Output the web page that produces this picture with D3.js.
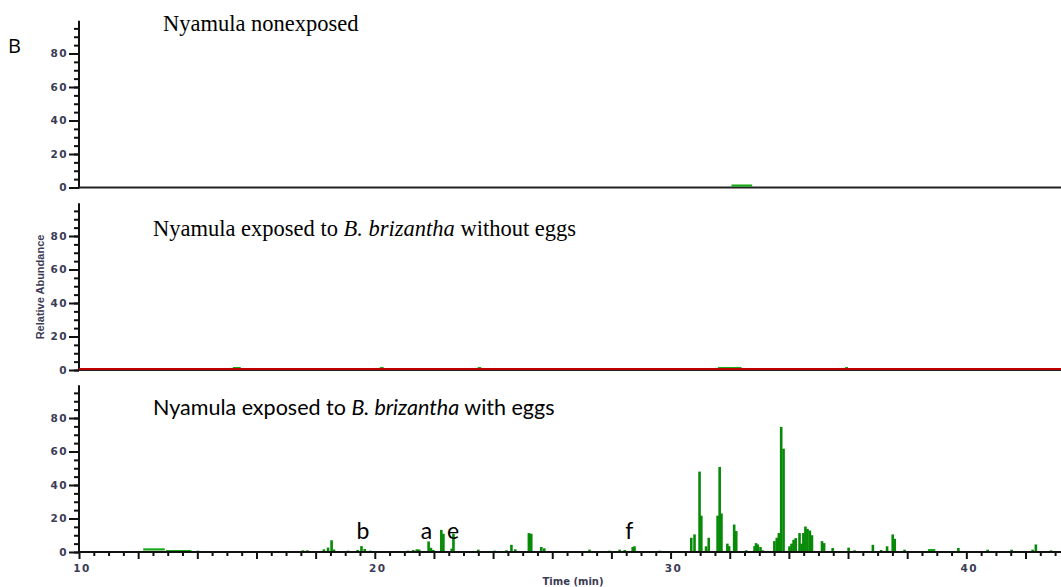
<!DOCTYPE html>
<html>
<head>
<meta charset="utf-8">
<script src="https://cdn.jsdelivr.net/npm/d3@7"></script>
<style>
  body { margin: 0; background: #fff; overflow: hidden; }
  svg { display: block; }
  .tick text { font-family: "DejaVu Sans", Verdana, sans-serif; font-weight: bold; font-size: 10.5px; letter-spacing: 1.5px; fill: #3b3b55; }
  .tick line { stroke: #111; stroke-width: 2px; }
</style>
</head>
<body>
<div id="chart"></div>
<script>
// ---- data ----
// retention time (min) and relative abundance for the peaks of each trace
var panelTitles = ["Nyamula nonexposed", "Nyamula exposed to B. brizantha without eggs", "Nyamula exposed to B. brizantha with eggs"];

// flat segments [start, end, level]
var nonexposedFlat = [[32.06, 32.76, 1.2]];
var withoutEggsFlat = [[15.2, 15.47, 1.2], [20.17, 20.3, 1.2], [23.48, 23.6, 1.2], [31.6, 32.4, 1.2], [35.9, 36.0, 1.2]];
var withEggsFlat = [[12.17, 12.9, 1.6], [12.94, 13.8, 0.6], [38.7, 38.95, 1.2]];

var peakTimes = [14.02, 17.57, 17.72, 18.28, 18.42, 18.54, 18.62, 19.1, 19.42, 19.55, 19.66, 19.85,
  21.12, 21.3, 21.42, 21.5, 21.82, 21.9, 21.98, 22.25, 22.32, 22.6, 22.66, 23.5, 24.05, 24.45, 24.62, 24.75,
  25.21, 25.29, 25.63, 25.73, 27.26, 27.94, 28.28, 28.45, 28.72, 28.78, 29.0, 29.63, 29.96,
  30.7, 30.81, 30.98, 31.04, 31.2, 31.29, 31.59, 31.66, 31.72, 31.92, 31.98, 32.15, 32.22, 32.56,
  32.84, 32.89, 32.95, 33.04, 33.12, 33.51, 33.59, 33.66, 33.74, 33.82, 34.02, 34.09, 34.16, 34.23,
  34.36, 34.43, 34.49, 34.56, 34.63, 34.71, 34.78, 35.12, 35.19, 35.48, 36.02, 36.22, 36.84, 37.12,
  37.32, 37.51, 37.58, 37.91, 39.73, 40.72, 41.53, 42.24, 42.35, 42.86];
var peakValues = [0.8, 1.0, 1.0, 1.6, 2.6, 7.0, 1.5, 0.8, 1.2, 3.5, 1.8, 0.8,
  0.8, 1.2, 1.6, 1.5, 6.3, 2.5, 1.2, 13.2, 10.9, 2.0, 10.9, 1.4, 0.8, 1.0, 4.3, 1.6,
  11.3, 10.9, 3.0, 2.2, 1.4, 0.8, 1.4, 1.2, 3.0, 3.4, 0.6, 0.8, 0.5,
  8.5, 10.5, 48, 21.7, 3.4, 8.5, 21.7, 50.8, 23, 5, 3.5, 16.4, 12.5, 1.0,
  3.5, 5.3, 4.5, 3.0, 1.0, 6.5, 8.5, 11.3, 74.7, 61.7, 3.4, 5, 7.3, 8.3,
  11.3, 5, 11.3, 15.2, 13.8, 12.8, 10, 6.5, 5.3, 2.4, 2.6, 1.0, 4.3, 1.2,
  3.4, 10.5, 7.9, 1.4, 2.4, 1.4, 1.4, 1.4, 4.5, 1.0];

var peakLabels = ["b", "a", "e", "f"];
var peakLabelTimes = [19.6, 21.75, 22.65, 28.6];

var yLabelTicks = [0, 20, 40, 60, 80];
var xLabelTicks = [10, 20, 30, 40];

// ---- layout ----
var W = 1061, H = 587;
var svg = d3.select("#chart").append("svg").attr("width", W).attr("height", H);

var x = d3.scaleLinear().domain([10, 43.2]).range([79, 1061]);
var baseY = [187.5, 370, 552];
var green = "#078a07", flatGreen = "#18a818";
var labelFont = "'DejaVu Sans', Verdana, sans-serif";

svg.append("text").attr("x", 8).attr("y", 53)
  .style("font-family", "'Open Sans', Arial, sans-serif").style("font-size", "20px").text("B");

function drawPanel(i, flats) {
  var y = d3.scaleLinear().domain([0, 100]).range([baseY[i], baseY[i] - 167.5]);
  var g = svg.append("g");

  // y axis: minor every 5, labelled every 20
  g.append("g").attr("transform", "translate(79,0)")
    .call(d3.axisLeft(y).tickValues(d3.range(0, 100, 5)).tickSize(5).tickFormat(""))
    .call(function(s) { s.select(".domain").remove(); });
  g.append("g").attr("transform", "translate(79,0)")
    .call(d3.axisLeft(y).tickValues(yLabelTicks).tickSize(10).tickPadding(1))
    .call(function(s) { s.select(".domain").remove(); });
  g.append("line").attr("x1", 79).attr("x2", 79).attr("y1", y(0) + 1).attr("y2", y(99.5))
    .attr("stroke", "#111").attr("stroke-width", 2);

  // baseline
  g.append("line").attr("x1", 79).attr("x2", W).attr("y1", y(0)).attr("y2", y(0))
    .attr("stroke", "#222").attr("stroke-width", 2);

  g.selectAll(".flat").data(flats).enter().append("rect")
    .attr("x", function(d) { return x(d[0]); })
    .attr("width", function(d) { return x(d[1]) - x(d[0]); })
    .attr("y", function(d) { return y(d[2]) - 1; })
    .attr("height", 2.2)
    .attr("fill", flatGreen);
  return {g: g, y: y};
}

// panel 1
drawPanel(0, nonexposedFlat);
svg.append("text").attr("x", 163).attr("y", 31)
  .style("font-family", "'Liberation Serif', 'Times New Roman', serif").style("font-size", "22.5px")
  .text("Nyamula nonexposed");

// panel 2
var p2 = drawPanel(1, withoutEggsFlat);
p2.g.append("line").attr("x1", 79).attr("x2", W).attr("y1", p2.y(0) - 1).attr("y2", p2.y(0) - 1)
  .attr("stroke", "#c00000").attr("stroke-width", 2);
var t2 = svg.append("text").attr("x", 153).attr("y", 236)
  .style("font-family", "'Liberation Serif', 'Times New Roman', serif").style("font-size", "22.5px");
t2.append("tspan").text("Nyamula exposed to ");
t2.append("tspan").style("font-style", "italic").text("B. brizantha");
t2.append("tspan").text(" without eggs");

svg.append("text")
  .attr("transform", "translate(44,287) rotate(-90)")
  .attr("text-anchor", "middle")
  .style("font-family", "'Liberation Sans', Arial, sans-serif").style("font-size", "11px")
  .style("font-weight", "bold").attr("fill", "#3b3b55")
  .text("Relative Abundance");

// panel 3
var p3 = drawPanel(2, withEggsFlat);
var peaks = peakTimes.map(function(t, i) { return {t: t, v: peakValues[i]}; });
p3.g.selectAll(".peak").data(peaks).enter().append("rect")
  .attr("x", function(d) { return x(d.t) - 1.3; })
  .attr("width", 2.6)
  .attr("y", function(d) { return p3.y(d.v); })
  .attr("height", function(d) { return p3.y(0) - p3.y(d.v); })
  .attr("fill", green);

// x axis: minor every 0.5 min, longer every 2 min, labels every 10
var xg = svg.append("g").attr("transform", "translate(0," + baseY[2] + ")");
xg.append("g")
  .call(d3.axisBottom(x).tickValues(d3.range(10.5, 43.1, 0.5).filter(function(v) { return v % 2 !== 0; })).tickSize(4).tickFormat(""))
  .call(function(s) { s.select(".domain").remove(); });
xg.append("g")
  .call(d3.axisBottom(x).tickValues(d3.range(10, 43.1, 2)).tickSize(7).tickFormat(""))
  .call(function(s) { s.select(".domain").remove(); });
xg.selectAll(".xlab").data(xLabelTicks).enter().append("text")
  .attr("x", function(d) { return x(d) + 3; })
  .attr("y", 20)
  .attr("text-anchor", "middle")
  .style("font-family", labelFont).style("font-size", "10.5px").style("letter-spacing", "1.5px")
  .style("font-weight", "bold").attr("fill", "#3b3b55")
  .text(function(d) { return d; });
xg.append("line").attr("x1", 79).attr("x2", W).attr("y1", 0).attr("y2", 0)
  .attr("stroke", "#111").attr("stroke-width", 2);

svg.append("text").attr("x", 573).attr("y", 585).attr("text-anchor", "middle")
  .style("font-family", labelFont).style("font-size", "10px")
  .style("font-weight", "bold").attr("fill", "#3b3b55")
  .text("Time (min)");

var t3 = svg.append("text").attr("x", 153).attr("y", 415)
  .style("font-family", "Lato, 'Open Sans', sans-serif").style("font-size", "21.5px");
t3.append("tspan").text("Nyamula exposed to ");
t3.append("tspan").style("font-style", "italic").text("B. brizantha");
t3.append("tspan").text(" with eggs");

svg.selectAll(".plab").data(peakLabels).enter().append("text")
  .attr("x", function(d, i) { return x(peakLabelTimes[i]); })
  .attr("y", 539)
  .attr("text-anchor", "middle")
  .style("font-family", "Lato, 'Open Sans', sans-serif").style("font-size", "23px")
  .text(function(d) { return d; });
</script>
</body>
</html>
